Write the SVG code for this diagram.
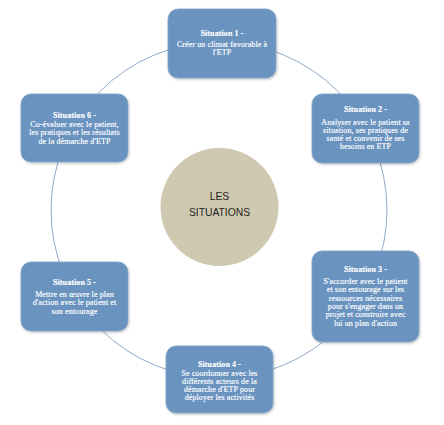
<svg xmlns="http://www.w3.org/2000/svg" width="444" height="425" viewBox="0 0 444 425">
<defs>
<style>
.box{fill:#6a94bf;stroke:#7fa3c8;stroke-width:0.8}
.t{font-family:"Liberation Serif",serif;font-size:8px;letter-spacing:0.1px;fill:#ffffff;stroke:#ffffff;stroke-width:0.15;text-anchor:middle}
.h{font-weight:bold}
.ring{fill:none;stroke:#8ea9c9;stroke-width:1}
.ctr{font-family:"Liberation Sans",Arial,sans-serif;font-size:10.3px;fill:#1e1e1e;text-anchor:middle}
</style>
<filter id="sh" x="-10%" y="-10%" width="125%" height="130%">
<feDropShadow dx="0.8" dy="1.2" stdDeviation="1" flood-color="#000" flood-opacity="0.25"/>
</filter>
</defs>
<rect width="444" height="425" fill="#ffffff"/>
<g id="connectors">
<circle class="ring" cx="219" cy="210" r="168"/>
</g>
<g id="center">
<circle cx="219.5" cy="207" r="59" fill="#cfc9b1"/>
<text class="ctr" x="219.5" y="200">LES</text>
<text class="ctr" x="219.5" y="216">SITUATIONS</text>
</g>
<g id="situation1">
<rect class="box" x="168" y="9" width="108" height="69" rx="10" filter="url(#sh)"/>
<text class="t h" x="222" y="36">Situation 1 -</text>
<text class="t" x="222" y="47">Créer un climat favorable à</text>
<text class="t" x="222" y="55">l'ETP</text>
</g>
<g id="situation2">
<rect class="box" x="312" y="94" width="107" height="69" rx="10" filter="url(#sh)"/>
<text class="t h" x="365.5" y="112">Situation 2 -</text>
<text class="t" x="365.5" y="125">Analyser avec le patient sa</text>
<text class="t" x="365.5" y="133">situation, ses pratiques de</text>
<text class="t" x="365.5" y="141">santé et convenir de ses</text>
<text class="t" x="365.5" y="149">besoins en ETP</text>
</g>
<g id="situation3">
<rect class="box" x="312" y="251" width="107" height="91" rx="10" filter="url(#sh)"/>
<text class="t h" x="365.5" y="271.5">Situation 3 -</text>
<text class="t" x="365.5" y="283.5">S'accorder avec le patient</text>
<text class="t" x="365.5" y="292">et son entourage sur les</text>
<text class="t" x="365.5" y="300.5">ressources nécessaires</text>
<text class="t" x="365.5" y="308.5">pour s'engager dans un</text>
<text class="t" x="365.5" y="317">projet et construire avec</text>
<text class="t" x="365.5" y="325.5">lui un plan d'action</text>
</g>
<g id="situation4">
<rect class="box" x="166" y="346" width="107" height="67" rx="10" filter="url(#sh)"/>
<text class="t h" x="219.5" y="366.5">Situation 4 -</text>
<text class="t" x="219.5" y="375.5">Se coordonner avec les</text>
<text class="t" x="219.5" y="383.5">différents acteurs de la</text>
<text class="t" x="219.5" y="391.5">démarche d'ETP pour</text>
<text class="t" x="219.5" y="399.5">déployer les activités</text>
</g>
<g id="situation5">
<rect class="box" x="21" y="262" width="107" height="69" rx="10" filter="url(#sh)"/>
<text class="t h" x="74.5" y="284.5">Situation 5 -</text>
<text class="t" x="74.5" y="296.5">Mettre en œuvre le plan</text>
<text class="t" x="74.5" y="305">d'action avec le patient et</text>
<text class="t" x="74.5" y="313.5">son entourage</text>
</g>
<g id="situation6">
<rect class="box" x="21" y="94" width="107" height="68" rx="10" filter="url(#sh)"/>
<text class="t h" x="74.5" y="117.5">Situation 6 -</text>
<text class="t" x="74.5" y="126.5">Co-évaluer avec le patient,</text>
<text class="t" x="74.5" y="135">les pratiques et les résultats</text>
<text class="t" x="74.5" y="143.5">de la démarche d'ETP</text>
</g>
</svg>
